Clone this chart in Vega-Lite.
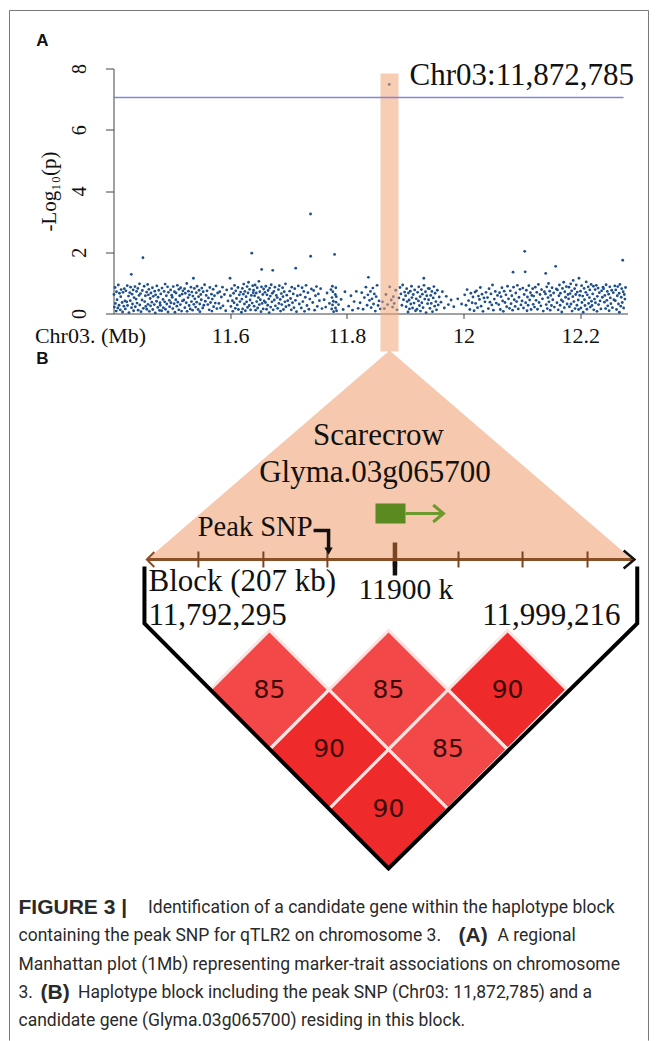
{
  "$schema": "https://vega.github.io/schema/vega-lite/v6.json",
  "background": "white",
  "padding": {"left": 8.5, "top": 9.5, "right": 8.5, "bottom": 0},
  "autosize": {"type": "pad"},
  "bounds": "flush",
  "spacing": 19,
  "config": {"view": {"stroke": null}},
  "vconcat": [
    {
      "width": 514,
      "height": 245,
      "encoding": {
        "x": {"field": "pos", "type": "quantitative",
          "scale": {"domain": [11.4, 12.2812], "nice": false, "zero": false},
          "axis": {"values": [11.6, 11.8, 12, 12.2], "labelExpr": "datum.value == 12 ? '12' : format(datum.value, '.1f')", "title": null, "labelFont": "Liberation Serif", "labelFontSize": 22, "labelColor": "#111", "labelPadding": 7, "tickSize": 5, "tickColor": "#444", "domainColor": "#444", "grid": false, "labelFlush": false}},
        "y": {"field": "lp", "type": "quantitative",
          "scale": {"domain": [0, 8], "nice": false, "zero": false},
          "axis": {"values": [0, 2, 4, 6, 8], "title": "-Log₁₀(p)", "titleFont": "Liberation Serif", "titleFontSize": 21, "titleFontWeight": "normal", "titleColor": "#111", "titlePadding": 10, "labelFont": "Liberation Serif", "labelFontSize": 20, "labelAngle": -90, "labelAlign": "center", "labelBaseline": "alphabetic", "labelPadding": 20, "labelColor": "#111", "tickSize": 8, "tickColor": "#444", "domainColor": "#444", "grid": false, "labelFlush": false, "labelOverlap": false}}
      },
      "layer": [
        {
          "data": {"values": [
            {"pos": [11.4008,11.4015,11.4027,11.4033,11.4046,11.4052,11.4061,11.4074,11.4083,11.4095,11.4102,11.4117,11.4124,11.4131,11.4148,11.4156,11.4163,11.4177,11.4185,11.4196], "lp": [0.62,0.21,0.85,0.33,0.08,0.71,0.45,0.18,0.93,0.27,0.66,0.12,0.55,0.78,0.36,0.05,0.69,0.24,0.81,0.41]},
            {"pos": [11.4204,11.4213,11.4228,11.4236,11.4241,11.4257,11.4265,11.4279,11.4288,11.4293,11.4305,11.4309,11.4318,11.4326,11.4337,11.4345,11.4352,11.4368,11.4374,11.4387,11.4395], "lp": [0.15,0.74,0.38,0.91,0.26,0.57,0.03,0.68,0.42,0.86,1.28,0.19,0.63,0.31,0.77,0.09,0.52,0.88,0.22,0.47,0.72]},
            {"pos": [11.4403,11.4417,11.4422,11.4438,11.4446,11.4451,11.4463,11.4472,11.4489,11.4494,11.4505,11.4511,11.4526,11.4534,11.4547,11.4553,11.4568,11.4571,11.4585,11.4592,11.4598], "lp": [0.34,0.82,0.11,0.59,0.97,0.28,0.65,0.06,0.44,0.75,1.82,0.17,0.89,0.39,0.58,0.23,0.70,0.14,0.95,0.30,0.61]},
            {"pos": [11.4606,11.4614,11.4629,11.4635,11.4642,11.4658,11.4667,11.4673,11.4681,11.4699,11.4707,11.4716,11.4722,11.4738,11.4743,11.4759,11.4764,11.4776,11.4788,11.4797], "lp": [0.79,0.07,0.49,0.25,0.67,0.37,0.84,0.13,0.56,0.29,0.73,0.02,0.61,0.40,0.90,0.20,0.53,0.76,0.10,0.35]},
            {"pos": [11.4802,11.4811,11.4825,11.4832,11.4849,11.4854,11.4868,11.4877,11.4885,11.4891,11.4906,11.4913,11.4927,11.4935,11.4941,11.4957,11.4962,11.4979,11.4984,11.4998], "lp": [0.27,0.64,0.09,0.83,0.46,0.19,0.72,0.38,0.96,0.14,0.58,0.31,0.87,0.05,0.69,0.43,0.22,0.77,0.35,0.60]},
            {"pos": [11.5007,11.5016,11.5024,11.5039,11.5045,11.5053,11.5068,11.5072,11.5086,11.5094,11.5103,11.5119,11.5121,11.5134,11.5146,11.5152,11.5167,11.5175,11.5183,11.5191], "lp": [0.53,0.16,0.88,0.32,0.71,0.04,0.45,0.67,0.24,0.92,0.37,0.12,0.79,0.58,0.29,0.84,0.08,0.63,0.41,0.74]},
            {"pos": [11.5205,11.5218,11.5223,11.5231,11.5247,11.5256,11.5262,11.5278,11.5284,11.5297,11.5302,11.5315,11.5328,11.5336,11.5343,11.5355,11.5361,11.5370,11.5377,11.5386,11.5394], "lp": [0.44,0.81,0.19,0.66,0.35,0.98,0.07,0.52,0.73,0.26,0.61,0.15,0.86,0.39,0.70,0.11,0.57,1.15,0.30,0.82,0.48]},
            {"pos": [11.5408,11.5419,11.5426,11.5433,11.5451,11.5458,11.5467,11.5479,11.5482,11.5496,11.5505,11.5514,11.5529,11.5537,11.5548,11.5562,11.5574,11.5589], "lp": [0.21,0.68,0.37,0.89,0.13,0.55,0.76,0.31,0.06,0.62,0.45,0.83,0.18,0.71,0.27,0.94,0.40,0.59]},
            {"pos": [11.5603,11.5617,11.5628,11.5641,11.5652,11.5664,11.5679,11.5687,11.5693,11.5708,11.5716,11.5731,11.5744,11.5759,11.5772,11.5785], "lp": [0.74,0.29,0.51,0.12,0.85,0.36,0.63,0.08,0.47,0.79,0.22,0.58,0.34,0.90,0.16,0.67]},
            {"pos": [11.5807,11.5821,11.5836,11.5849,11.5868,11.5877,11.5902,11.5924,11.5941,11.5963,11.5998], "lp": [0.33,0.71,0.18,0.54,0.86,0.25,0.62,0.09,0.77,0.41,1.15]},
            {"pos": [11.6004,11.6013,11.6025,11.6038,11.6046,11.6059,11.6067,11.6075,11.6088,11.6096,11.6109,11.6121,11.6134,11.6142,11.6157,11.6168,11.6179,11.6193], "lp": [0.58,0.23,0.81,0.42,0.07,0.66,0.35,0.92,0.17,0.74,0.49,0.28,0.85,0.13,0.61,0.39,0.70,0.04]},
            {"pos": [11.6201,11.6209,11.6214,11.6226,11.6233,11.6245,11.6252,11.6261,11.6273,11.6282,11.6290,11.6298,11.6306,11.6315,11.6327,11.6334,11.6342,11.6351,11.6363,11.6370,11.6378,11.6386,11.6395], "lp": [0.47,0.82,0.15,0.63,0.96,0.31,0.72,0.09,0.55,0.38,0.88,0.20,0.67,1.02,0.26,0.79,0.44,0.12,0.59,1.97,0.34,0.91,0.68]},
            {"pos": [11.6403,11.6411,11.6419,11.6428,11.6436,11.6447,11.6455,11.6463,11.6471,11.6484,11.6492,11.6500,11.6508,11.6517,11.6529,11.6537,11.6540,11.6548,11.6559,11.6566,11.6574,11.6583,11.6596], "lp": [0.76,0.24,0.58,0.93,0.11,0.67,0.39,0.84,0.18,0.52,1.05,0.29,0.71,0.45,0.06,0.87,1.44,0.33,0.62,0.15,0.80,0.41,0.69]},
            {"pos": [11.6605,11.6612,11.6624,11.6631,11.6643,11.6650,11.6662,11.6669,11.6677,11.6688,11.6695,11.6704,11.6716,11.6723,11.6730,11.6738,11.6749,11.6757,11.6768,11.6776,11.6791], "lp": [0.36,0.89,0.14,0.61,0.27,0.75,0.48,0.03,0.83,0.57,0.21,0.94,0.38,0.66,1.41,0.12,0.72,0.44,0.86,0.25,0.59]},
            {"pos": [11.6807,11.6815,11.6828,11.6836,11.6843,11.6859,11.6864,11.6877,11.6885,11.6898,11.6906,11.6914,11.6927,11.6939,11.6948,11.6956,11.6971,11.6987], "lp": [0.52,0.17,0.78,0.33,0.91,0.46,0.08,0.65,0.29,0.84,0.55,0.13,0.71,0.38,0.97,0.22,0.60,0.42]},
            {"pos": [11.7009,11.7021,11.7036,11.7048,11.7057,11.7069,11.7082,11.7094,11.7108,11.7119,11.7124,11.7137,11.7152,11.7168,11.7185], "lp": [0.27,0.73,0.49,0.12,0.86,0.35,0.64,0.19,0.81,0.43,1.48,0.06,0.58,0.90,0.31]},
            {"pos": [11.7204,11.7219,11.7233,11.7246,11.7262,11.7275,11.7288,11.7301,11.7317,11.7334,11.7349,11.7366,11.7378,11.7380,11.7392], "lp": [0.61,0.18,0.84,0.39,0.72,0.07,0.53,0.92,0.26,0.68,0.14,0.47,3.25,1.87,0.80]},
            {"pos": [11.7415,11.7431,11.7448,11.7463,11.7479,11.7494,11.7512,11.7530,11.7551,11.7574], "lp": [0.36,0.75,0.11,0.58,0.88,0.23,0.64,0.42,0.81,0.16]},
            {"pos": [11.7612,11.7638,11.7661,11.7702,11.7728,11.7741,11.7746,11.7752,11.7755,11.7761,11.7768,11.7774,11.7790], "lp": [0.45,0.21,0.67,0.33,0.78,0.15,0.52,0.89,0.28,0.71,0.40,0.06,1.93]},
            {"pos": [11.7803,11.7806,11.7811,11.7815,11.7819,11.7824,11.7858,11.7902,11.7937,11.7968], "lp": [0.62,0.18,0.84,0.37,0.55,0.09,0.29,0.46,0.13,0.71]},
            {"pos": [11.8032,11.8071,11.8098,11.8125,11.8163,11.8194], "lp": [0.24,0.58,0.11,0.39,0.72,0.17]},
            {"pos": [11.8228,11.8256,11.8279,11.8301,11.8327,11.8348,11.8361,11.8370,11.8389], "lp": [0.35,0.68,0.14,0.52,0.86,0.27,0.61,1.18,0.43]},
            {"pos": [11.8405,11.8417,11.8432,11.8446,11.8458,11.8471,11.8489,11.8503,11.8519,11.8536,11.8552,11.8574], "lp": [0.72,0.19,0.48,0.83,0.31,0.64,0.08,0.55,0.92,0.26,0.41,0.15]},
            {"pos": [11.8612,11.8643,11.8671,11.8699,11.8728,11.8735,11.8762,11.8784,11.8797], "lp": [0.38,0.16,0.62,0.29,7.48,0.87,0.44,0.21,0.55]},
            {"pos": [11.8812,11.8839,11.8861,11.8893,11.8912,11.8927,11.8945,11.8958,11.8972,11.8991], "lp": [0.33,0.76,0.12,0.51,0.85,0.64,0.27,0.93,0.45,0.70]},
            {"pos": [11.9008,11.9017,11.9026,11.9035,11.9049,11.9056,11.9068,11.9074,11.9089,11.9097,11.9108,11.9116,11.9127,11.9139,11.9152,11.9163,11.9178,11.9191], "lp": [0.58,0.22,0.81,0.39,0.05,0.67,0.44,0.15,0.73,0.31,0.89,0.52,0.18,0.62,0.34,0.77,0.09,0.48]},
            {"pos": [11.9203,11.9214,11.9228,11.9233,11.9245,11.9257,11.9262,11.9278,11.9286,11.9295,11.9307,11.9320,11.9323,11.9336,11.9348,11.9359,11.9371,11.9384,11.9396], "lp": [0.14,0.69,0.41,0.87,0.26,0.55,0.08,0.78,0.35,0.63,0.19,1.15,0.92,0.47,0.71,0.03,0.58,0.32,0.82]},
            {"pos": [11.9402,11.9416,11.9425,11.9438,11.9447,11.9459,11.9468,11.9481,11.9493,11.9506,11.9514,11.9527,11.9538,11.9552,11.9567,11.9584], "lp": [0.45,0.81,0.17,0.59,0.33,0.72,0.06,0.51,0.88,0.24,0.66,0.39,0.12,0.76,0.28,0.54]},
            {"pos": [11.9614,11.9638,11.9672,11.9705,11.9741,11.9788], "lp": [0.37,0.71,0.18,0.56,0.29,0.44]},
            {"pos": [11.9834,11.9902,11.9968], "lp": [0.22,0.48,0.31]},
            {"pos": [12.0021,12.0043,12.0062,12.0087,12.0109,12.0126,12.0148,12.0163,12.0182,12.0197], "lp": [0.61,0.27,0.78,0.42,0.13,0.66,0.35,0.54,0.09,0.70]},
            {"pos": [12.0208,12.0223,12.0241,12.0257,12.0274,12.0289,12.0302,12.0318,12.0335,12.0351,12.0368,12.0386], "lp": [0.33,0.74,0.19,0.57,0.46,0.85,0.24,0.63,0.07,0.51,0.38,0.69]},
            {"pos": [12.0412,12.0427,12.0439,12.0454,12.0471,12.0486,12.0498,12.0513,12.0529,12.0546,12.0562,12.0584], "lp": [0.52,0.16,0.81,0.37,0.64,0.28,0.93,0.11,0.47,0.72,0.34,0.59]},
            {"pos": [12.0605,12.0619,12.0632,12.0644,12.0659,12.0671,12.0683,12.0698,12.0712,12.0728,12.0741,12.0755,12.0772,12.0789], "lp": [0.29,0.68,0.13,0.55,0.84,0.41,0.07,0.73,0.36,0.61,0.22,0.89,0.48,0.17]},
            {"pos": [12.0803,12.0816,12.0829,12.0842,12.0850,12.0858,12.0871,12.0886,12.0897,12.0911,12.0924,12.0939,12.0952,12.0968,12.0985], "lp": [0.74,0.32,0.58,0.11,1.35,0.86,0.45,0.23,0.67,0.39,0.92,0.15,0.53,0.79,0.28]},
            {"pos": [12.1004,12.1017,12.1029,12.1041,12.1050,12.1058,12.1066,12.1078,12.1089,12.1097,12.1108,12.1121,12.1135,12.1148,12.1159,12.1172,12.1186,12.1195], "lp": [0.41,0.83,0.18,0.62,2.03,1.36,0.35,0.76,0.09,0.54,0.27,0.91,0.44,0.68,0.13,0.59,0.81,0.30]},
            {"pos": [12.1203,12.1218,12.1231,12.1245,12.1257,12.1269,12.1284,12.1296,12.1312,12.1327,12.1339,12.1354,12.1368,12.1387], "lp": [0.57,0.21,0.86,0.43,0.69,0.14,0.95,0.36,0.62,0.25,0.78,0.48,0.08,0.71]},
            {"pos": [12.1406,12.1410,12.1419,12.1428,12.1437,12.1449,12.1458,12.1466,12.1478,12.1487,12.1496,12.1508,12.1519,12.1531,12.1546,12.1558,12.1580,12.1592], "lp": [0.64,1.31,0.29,0.87,0.16,0.52,0.98,0.38,0.73,0.11,0.59,0.26,0.84,0.45,0.67,0.21,1.54,0.80]},
            {"pos": [12.1603,12.1611,12.1624,12.1636,12.1645,12.1657,12.1662,12.1679,12.1685,12.1697,12.1706,12.1718,12.1729,12.1737,12.1751,12.1763,12.1776,12.1792], "lp": [0.35,0.77,0.12,0.58,0.93,0.27,0.66,0.44,0.05,0.82,0.39,1.02,0.19,0.71,0.53,0.88,0.31,0.62]},
            {"pos": [12.1802,12.1809,12.1816,12.1827,12.1838,12.1843,12.1855,12.1862,12.1874,12.1881,12.1893,12.1905,12.1912,12.1924,12.1933,12.1945,12.1951,12.1967,12.1974,12.1980,12.1992], "lp": [0.48,0.86,0.22,0.65,0.97,0.31,0.74,0.08,0.55,1.08,0.39,0.81,0.16,0.62,0.93,0.27,0.70,0.44,0.13,1.15,0.59]},
            {"pos": [12.2006,12.2013,12.2025,12.2031,12.2044,12.2052,12.2068,12.2075,12.2083,12.2097,12.2104,12.2116,12.2123,12.2138,12.2145,12.2159,12.2166,12.2174,12.2188,12.2195], "lp": [0.73,0.18,0.91,0.36,0.57,0.04,0.82,0.45,0.26,0.69,1.03,0.14,0.61,0.87,0.33,0.52,0.77,0.21,0.95,0.40]},
            {"pos": [12.2204,12.2215,12.2227,12.2234,12.2246,12.2258,12.2263,12.2277,12.2289,12.2296,12.2308,12.2317,12.2329,12.2342,12.2356,12.2368,12.2381,12.2393], "lp": [0.26,0.64,0.89,0.12,0.47,0.78,0.35,0.92,0.07,0.56,0.83,0.29,0.68,0.41,0.15,0.74,0.53,0.86]},
            {"pos": [12.2402,12.2416,12.2423,12.2437,12.2445,12.2458,12.2466,12.2474,12.2489,12.2497,12.2509,12.2518,12.2527,12.2541,12.2553,12.2568,12.2579,12.2594], "lp": [0.81,0.37,0.59,0.16,0.94,0.43,0.72,0.25,0.63,0.09,0.87,0.51,0.32,0.76,0.19,0.68,0.45,0.90]},
            {"pos": [12.2603,12.2611,12.2624,12.2638,12.2645,12.2657,12.2669,12.2673,12.2682,12.2696,12.2705,12.2713,12.2722,12.2730,12.2738,12.2746,12.2757,12.2768,12.2779], "lp": [0.42,0.77,0.13,0.58,0.88,0.31,0.66,0.04,0.95,0.24,0.53,0.81,0.36,1.74,0.71,0.18,0.62,0.47,0.85]}
          ]},
          "transform": [{"flatten": ["pos", "lp"]}],
          "mark": {"type": "point", "filled": true, "size": 8, "color": "#1d4f8c", "opacity": 1}
        },
        {
          "data": {"values": [{"pos": 11.8577, "pos_end": 11.8886, "lp": -1.241, "lp_end": 7.837}]},
          "mark": {"type": "rect", "color": "#f0a477", "opacity": 0.55},
          "encoding": {"x2": {"field": "pos_end"}, "y2": {"field": "lp_end"}}
        },
        {
          "data": {"values": [{"pos": 11.4, "pos_end": 12.2743, "lp": 7.05}]},
          "mark": {"type": "rule", "color": "#8484dc", "strokeWidth": 1.5},
          "encoding": {"x2": {"field": "pos_end"}}
        },
        {
          "data": {"values": [{"pos": 11.9075, "lp": 7.771, "label": "Chr03:11,872,785"}]},
          "mark": {"type": "text", "align": "left", "baseline": "middle", "font": "Liberation Serif", "fontSize": 31, "color": "#111"},
          "encoding": {"text": {"field": "label"}}
        },
        {
          "data": {"values": [{"pos": 11.3606, "lp": -0.72, "label": "Chr03. (Mb)"}]},
          "mark": {"type": "text", "align": "center", "baseline": "middle", "font": "Liberation Serif", "fontSize": 22, "color": "#111"},
          "encoding": {"text": {"field": "label"}}
        },
        {
          "data": {"values": [{"pos": 11.2783, "lp": 8.914, "label": "A"}]},
          "mark": {"type": "text", "align": "center", "baseline": "middle", "font": "Liberation Sans", "fontWeight": "bold", "fontSize": 17, "color": "#111"},
          "encoding": {"text": {"field": "label"}}
        }
      ]
    },
    {
      "width": 516,
      "height": 536,
      "encoding": {
        "x": {"field": "kb", "type": "quantitative", "scale": {"domain": [11778, 11998], "nice": false, "zero": false}, "axis": null},
        "y": {"field": "lvl", "type": "quantitative", "scale": {"domain": [0, 9], "nice": false, "zero": false}, "axis": null}
      },
      "layer": [
        {
          "data": {"values": [
            {"kb": 11733.66, "kb2": 11733.66, "lvl": 14.407, "lvl2": -2.89},
            {"kb": 12006.1, "kb2": 12006.1, "lvl": 14.407, "lvl2": -2.89},
            {"kb": 11733.66, "kb2": 12006.1, "lvl": 14.407, "lvl2": 14.407}
          ]},
          "mark": {"type": "rule", "color": "#777", "strokeWidth": 1},
          "encoding": {"x2": {"field": "kb2"}, "y2": {"field": "lvl2"}}
        },
        {
          "data": {"values": [
            {"kb": 11792.3, "lvl": 5.188, "base": 5.188},
            {"kb": 11895.7, "lvl": 8.698, "base": 5.188},
            {"kb": 11999.2, "lvl": 5.188, "base": 5.188}
          ]},
          "mark": {"type": "area", "color": "#f0a477", "opacity": 0.6},
          "encoding": {"y2": {"field": "base"}}
        },
        {
          "data": {"values": [{"kb": 11792.3, "kb2": 11999.2, "lvl": 5.188}]},
          "mark": {"type": "rule", "color": "#8a4f26", "strokeWidth": 3},
          "encoding": {"x2": {"field": "kb2"}}
        },
        {
          "data": {"values": [
            {"kb": 11814.2, "lvl": 5.054, "lvl2": 5.323},
            {"kb": 11841.9, "lvl": 5.054, "lvl2": 5.323},
            {"kb": 11869.2, "lvl": 5.054, "lvl2": 5.323},
            {"kb": 11925.1, "lvl": 5.054, "lvl2": 5.323},
            {"kb": 11952.4, "lvl": 5.054, "lvl2": 5.323},
            {"kb": 11980.1, "lvl": 5.054, "lvl2": 5.323}
          ]},
          "mark": {"type": "rule", "color": "#7a4522", "strokeWidth": 2},
          "encoding": {"y2": {"field": "lvl2"}}
        },
        {
          "data": {"values": [{"kb": 11898, "lvl": 5.071, "lvl2": 5.474}]},
          "mark": {"type": "rule", "color": "#7a4522", "strokeWidth": 4.5},
          "encoding": {"y2": {"field": "lvl2"}}
        },
        {
          "data": {"values": [{"kb": 11898, "lvl": 4.92, "lvl2": 5.155}]},
          "mark": {"type": "rule", "color": "#111", "strokeWidth": 4.5},
          "encoding": {"y2": {"field": "lvl2"}}
        },
        {
          "data": {"values": [{"kb": 11793.8, "lvl": 5.188}]},
          "mark": {"type": "point", "shape": "M0.5,-1L-0.5,0L0.5,1", "filled": false, "size": 225, "stroke": "#8a4f26", "strokeWidth": 2, "opacity": 1}
        },
        {
          "data": {"values": [{"kb": 11997.8, "lvl": 5.188}]},
          "mark": {"type": "point", "shape": "M-0.6,-1L0.6,0L-0.6,1", "filled": false, "size": 324, "stroke": "#111", "strokeWidth": 2.5, "opacity": 1}
        },
        {
          "data": {"values": [{"kb": 11889.7, "kb2": 11902.5, "lvl": 5.793, "lvl2": 6.129}]},
          "mark": {"type": "rect", "color": "#5b8a20"},
          "encoding": {"x2": {"field": "kb2"}, "y2": {"field": "lvl2"}}
        },
        {
          "data": {"values": [{"kb": 11902.5, "kb2": 11917.9, "lvl": 5.961}]},
          "mark": {"type": "rule", "color": "#6d9a2c", "strokeWidth": 3},
          "encoding": {"x2": {"field": "kb2"}}
        },
        {
          "data": {"values": [{"kb": 11916.5, "lvl": 5.961}]},
          "mark": {"type": "point", "shape": "M-0.6,-1L0.6,0L-0.6,1", "filled": false, "size": 289, "stroke": "#6d9a2c", "strokeWidth": 3, "opacity": 1}
        },
        {
          "data": {"values": [
            {"seq": 1, "kb": 11863.3, "lvl": 5.675},
            {"seq": 2, "kb": 11869.7, "lvl": 5.675},
            {"seq": 3, "kb": 11869.7, "lvl": 5.38}
          ]},
          "mark": {"type": "line", "color": "#111", "strokeWidth": 3.5, "strokeJoin": "miter", "strokeCap": "butt"},
          "encoding": {"order": {"field": "seq", "type": "quantitative"}}
        },
        {
          "data": {"values": [{"kb": 11869.7, "lvl": 5.33}]},
          "mark": {"type": "point", "shape": "triangle-down", "filled": true, "size": 70, "color": "#111", "opacity": 1}
        },
        {
          "data": {"values": [
            {"kb": 11844.5, "lvl": 3, "r2": 85},
            {"kb": 11895.25, "lvl": 3, "r2": 85},
            {"kb": 11946.0, "lvl": 3, "r2": 90},
            {"kb": 11869.9, "lvl": 2, "r2": 90},
            {"kb": 11920.6, "lvl": 2, "r2": 85},
            {"kb": 11895.25, "lvl": 1, "r2": 90}
          ]},
          "layer": [
            {
              "mark": {"type": "point", "shape": "square", "angle": 45, "filled": true, "size": 7056, "stroke": "#fde2e2", "strokeWidth": 3, "opacity": 1},
              "encoding": {"color": {"field": "r2", "type": "quantitative", "scale": {"domain": [85, 90], "range": ["#f34848", "#ee2a2a"]}, "legend": null}}
            },
            {
              "mark": {"type": "text", "align": "center", "baseline": "middle", "font": "DejaVu Sans", "fontSize": 25, "color": "#3d0a0a"},
              "encoding": {"text": {"field": "r2", "type": "quantitative"}}
            }
          ]
        },
        {
          "data": {"values": [
            {"seq": 1, "kb": 11791.2, "lvl": 5.071},
            {"seq": 2, "kb": 11791.2, "lvl": 4.114},
            {"seq": 3, "kb": 11895.25, "lvl": 0},
            {"seq": 4, "kb": 12001.3, "lvl": 4.114},
            {"seq": 5, "kb": 12001.3, "lvl": 5.071}
          ]},
          "mark": {"type": "line", "color": "#000", "strokeWidth": 4, "strokeJoin": "miter"},
          "encoding": {"order": {"field": "seq", "type": "quantitative"}}
        },
        {
          "data": {"values": [
            {"kb": 11890.98, "lvl": 7.27, "label": "Scarecrow"},
            {"kb": 11889.5, "lvl": 6.649, "label": "Glyma.03g065700"}
          ]},
          "mark": {"type": "text", "align": "center", "baseline": "middle", "font": "Liberation Serif", "fontSize": 31, "color": "#111"},
          "encoding": {"text": {"field": "label"}}
        },
        {
          "data": {"values": [{"kb": 11902.7, "lvl": 4.668, "label": "11900 k"}]},
          "mark": {"type": "text", "align": "center", "baseline": "middle", "font": "Liberation Serif", "fontSize": 29.5, "color": "#111"},
          "encoding": {"text": {"field": "label"}}
        },
        {
          "data": {"values": [
            {"kb": 11792.92, "lvl": 4.819, "label": "Block (207 kb)"},
            {"kb": 11792.92, "lvl": 4.248, "label": "11,792,295"}
          ]},
          "mark": {"type": "text", "align": "left", "baseline": "middle", "font": "Liberation Serif", "fontSize": 31, "color": "#111"},
          "encoding": {"text": {"field": "label"}}
        },
        {
          "data": {"values": [{"kb": 11994.2, "lvl": 4.248, "label": "11,999,216"}]},
          "mark": {"type": "text", "align": "right", "baseline": "middle", "font": "Liberation Serif", "fontSize": 31, "color": "#111"},
          "encoding": {"text": {"field": "label"}}
        },
        {
          "data": {"values": [{"kb": 11862.85, "lvl": 5.742, "label": "Peak SNP"}]},
          "mark": {"type": "text", "align": "right", "baseline": "middle", "font": "Liberation Serif", "fontSize": 28.5, "color": "#111"},
          "encoding": {"text": {"field": "label"}}
        },
        {
          "data": {"values": [{"kb": 11747.73, "lvl": 8.56, "label": "B"}]},
          "mark": {"type": "text", "align": "center", "baseline": "middle", "font": "Liberation Sans", "fontWeight": "bold", "fontSize": 17, "color": "#111"},
          "encoding": {"text": {"field": "label"}}
        },
        {
          "data": {"values": [
            {"kb": 11792.71, "lvl": -0.655, "label": "Identification of a candidate gene within the haplotype block"},
            {"kb": 11737.5, "lvl": -1.133, "label": "containing the peak SNP for qTLR2 on chromosome 3."},
            {"kb": 11941.72, "lvl": -1.133, "label": "A regional"},
            {"kb": 11737.5, "lvl": -1.612, "label": "Manhattan plot (1Mb) representing marker-trait associations on chromosome"},
            {"kb": 11737.5, "lvl": -2.09, "label": "3."},
            {"kb": 11762.86, "lvl": -2.09, "label": "Haplotype block including the peak SNP (Chr03: 11,872,785) and a"},
            {"kb": 11737.5, "lvl": -2.569, "label": "candidate gene (Glyma.03g065700) residing in this block."}
          ]},
          "mark": {"type": "text", "align": "left", "baseline": "middle", "font": "Roboto", "fontSize": 17.5, "color": "#2a2a2a"},
          "encoding": {"text": {"field": "label"}}
        },
        {
          "data": {"values": [
            {"kb": 11737.5, "lvl": -0.655, "label": "FIGURE 3 |"},
            {"kb": 11925.09, "lvl": -1.133, "label": "(A)"},
            {"kb": 11746.88, "lvl": -2.09, "label": "(B)"}
          ]},
          "mark": {"type": "text", "align": "left", "baseline": "middle", "font": "Liberation Sans", "fontWeight": "bold", "fontSize": 21, "color": "#2a2a2a"},
          "encoding": {"text": {"field": "label"}}
        }
      ]
    }
  ]
}
